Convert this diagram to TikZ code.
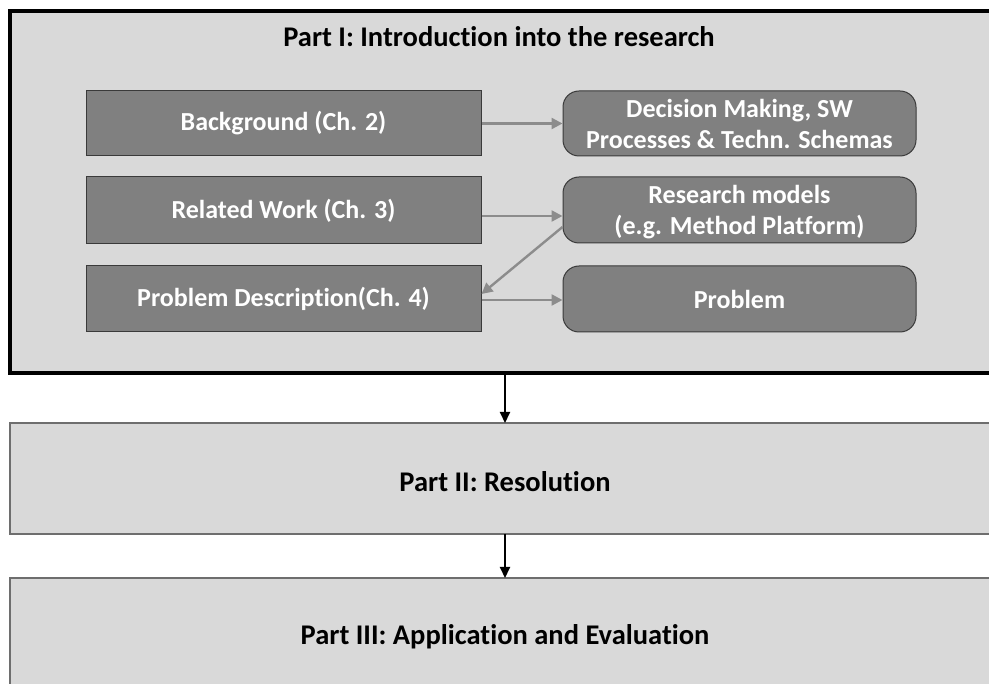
\documentclass[tikz,border=0pt]{standalone}
\usepackage{fontspec}
\setmainfont{Carlito}[Ligatures={NoCommon}]
\usetikzlibrary{arrows.meta}
\definecolor{panelbg}{HTML}{D9D9D9}
\definecolor{boxfill}{HTML}{808080}
\definecolor{boxline}{HTML}{3A3A3A}
\definecolor{linkgray}{HTML}{8C8C8C}
\definecolor{partline}{HTML}{6E6E6E}
\tikzset{
  chapterbox/.style={draw=boxline, line width=1pt, fill=boxfill, text=white,
    font=\fontsize{26}{31}\selectfont\bfseries, inner sep=0pt, align=center},
  topicbox/.style={chapterbox, rounded corners=16pt},
  link/.style={draw=linkgray, line width=2.4pt, -{Triangle[length=11pt,width=11pt]}},
  flow/.style={draw=black, line width=2pt, -{Triangle[length=11pt,width=10pt]}},
  parttext/.style={font=\fontsize{28.5}{33}\selectfont\bfseries, text=black}
}
\begin{document}
\begin{tikzpicture}[x=1pt,y=-1pt]
\useasboundingbox (0,0) rectangle (989,684);
\begin{scope}
\clip (0,0) rectangle (989,684);
% three stacked part panels
\draw[fill=panelbg, line width=3.5pt] (10,11) rectangle (1010,373);
\draw[fill=panelbg, draw=partline, line width=1.5pt] (10,423) rectangle (1010,534);
\draw[fill=panelbg, draw=partline, line width=1.5pt] (10,578) rectangle (1010,720);
\end{scope}
\coordinate (p1bot) at (505,373);
\coordinate (p2top) at (505,423);
\coordinate (p2bot) at (505,534);
\coordinate (p3top) at (505,578);

\node[parttext] (t1) at (499,37) {Part I: Introduction into the research};
\node[parttext] (t2) at (505,482) {Part II: Resolution};
\node[parttext] (t3) at (505,637) {Part III: Application and Evaluation};

% chapters of part I
\node[chapterbox, minimum width=395pt, minimum height=65pt] (bg) at (283.5,123.5) {Background (Ch. 2)};
\node[chapterbox, minimum width=395pt, minimum height=67pt] (rw) at (283.5,210.5) {Related Work (Ch. 3)};
\node[chapterbox, minimum width=395pt, minimum height=66pt] (pd) at (283.5,299) {Problem Description(Ch. 4)};

\node[topicbox, minimum width=353pt, minimum height=65pt] (dm) at (739.5,123.5) {Decision Making, SW\\Processes \& Techn. Schemas};
\node[topicbox, minimum width=353pt, minimum height=66pt, text depth=0pt] (rm) at (739.5,210) {Research models\\(e.g. Method Platform)};
\node[topicbox, minimum width=353pt, minimum height=66pt] (pr) at (739.5,299) {Problem};

\draw[link] (bg.east) -- (dm.west);
\draw[link] (rw.east |- 0,216) -- (rm.west |- 0,216);
\draw[link] (rm.west |- 0,227) -- (pd.east |- 0,294);
\draw[link] (pd.east |- 0,300) -- (pr.west |- 0,300);

\draw[flow] (p1bot) -- (p2top);
\draw[flow] (p2bot) -- (p3top);
\end{tikzpicture}
\end{document}
